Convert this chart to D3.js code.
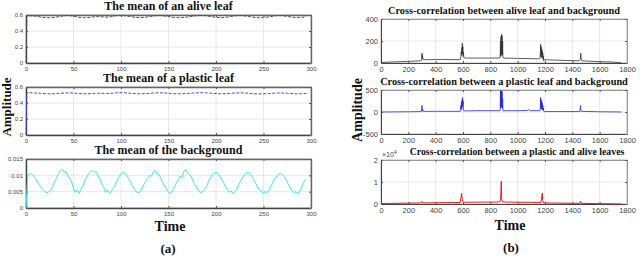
<!DOCTYPE html>
<html>
<head>
<meta charset="utf-8">
<script src="https://cdn.jsdelivr.net/npm/d3@7"></script>
<style>
  body { margin: 0; background: #fff; }
  .tick text { font-family: "Liberation Sans", Arial, sans-serif; fill: #444; }
  .title { font-family: "Liberation Serif", "Times New Roman", serif; font-weight: bold; fill: #111; }
</style>
</head>
<body>
<div id="chart"></div>
<script>
// --- left column data (time 0..300) ---
const aliveTime  = [0, 1, 5, 10, 15, 20, 25, 30, 35, 40, 45, 50, 55, 60, 65, 70, 75, 80, 85, 90, 95, 100, 105, 110, 115, 120, 125, 130, 135, 140, 145, 150, 155, 160, 165, 170, 175, 180, 185, 190, 195, 200, 205, 210, 215, 220, 225, 230, 235, 240, 245, 250, 255, 260, 265, 270, 275, 280, 285, 290, 295];
const aliveMean  = [0, 0.59, 0.59, 0.585, 0.575, 0.567, 0.565, 0.57, 0.58, 0.59, 0.595, 0.585, 0.572, 0.565, 0.568, 0.575, 0.58, 0.578, 0.572, 0.58, 0.592, 0.597, 0.59, 0.58, 0.57, 0.566, 0.57, 0.58, 0.59, 0.595, 0.59, 0.58, 0.57, 0.566, 0.568, 0.575, 0.585, 0.593, 0.596, 0.59, 0.58, 0.57, 0.566, 0.57, 0.58, 0.59, 0.595, 0.59, 0.58, 0.57, 0.565, 0.568, 0.575, 0.585, 0.595, 0.592, 0.582, 0.572, 0.566, 0.57, 0.578];
const plasticMean = [0, 0.53, 0.528, 0.525, 0.52, 0.516, 0.515, 0.517, 0.521, 0.525, 0.527, 0.524, 0.519, 0.515, 0.516, 0.519, 0.522, 0.521, 0.519, 0.522, 0.527, 0.53, 0.527, 0.522, 0.518, 0.515, 0.517, 0.521, 0.525, 0.528, 0.526, 0.521, 0.517, 0.515, 0.516, 0.519, 0.523, 0.527, 0.529, 0.527, 0.522, 0.518, 0.515, 0.517, 0.521, 0.525, 0.528, 0.526, 0.521, 0.517, 0.514, 0.515, 0.518, 0.522, 0.526, 0.525, 0.521, 0.517, 0.515, 0.516, 0.519];
const bgTime = d3.range(0, 296, 2);
const bgMean = [0.0, 0.0102, 0.0105, 0.0104, 0.0098, 0.0090, 0.0080, 0.0070, 0.0062, 0.0056, 0.0050, 0.0047, 0.0049, 0.0055, 0.0066, 0.0080, 0.0090, 0.0105, 0.0112, 0.0118, 0.0110, 0.0112, 0.0100, 0.0092, 0.0080, 0.0060, 0.0048, 0.0055, 0.0045, 0.0058, 0.0068, 0.0085, 0.0095, 0.0105, 0.0112, 0.0115, 0.0110, 0.0112, 0.0098, 0.0088, 0.0072, 0.0062, 0.0048, 0.0055, 0.0045, 0.0052, 0.0060, 0.0072, 0.0085, 0.0097, 0.0105, 0.0109, 0.0107, 0.0100, 0.0090, 0.0080, 0.0068, 0.0058, 0.0050, 0.0047, 0.0050, 0.0058, 0.0072, 0.0082, 0.0090, 0.0100, 0.0097, 0.0110, 0.0116, 0.0105, 0.0102, 0.0090, 0.0078, 0.0065, 0.0058, 0.0048, 0.0044, 0.0052, 0.0062, 0.0076, 0.0085, 0.0098, 0.0092, 0.0110, 0.0118, 0.0108, 0.0104, 0.0095, 0.0082, 0.0070, 0.0060, 0.0052, 0.0047, 0.0050, 0.0056, 0.0066, 0.0080, 0.0092, 0.0102, 0.0107, 0.0109, 0.0106, 0.0098, 0.0088, 0.0078, 0.0066, 0.0056, 0.0048, 0.0052, 0.0044, 0.0050, 0.0058, 0.0072, 0.0084, 0.0094, 0.0102, 0.0107, 0.0109, 0.0105, 0.0096, 0.0086, 0.0074, 0.0062, 0.0055, 0.0050, 0.0045, 0.0052, 0.0046, 0.0056, 0.0068, 0.0080, 0.0090, 0.0098, 0.0104, 0.0106, 0.0102, 0.0095, 0.0085, 0.0074, 0.0062, 0.0054, 0.0047, 0.0050, 0.0044, 0.0052, 0.0062, 0.0076, 0.0088];

// --- right column data (lag 0..1800) ---
const abLag = [0, 100, 200, 290, 297, 300, 302, 304, 307, 320, 450, 580, 585, 587, 589, 591, 593, 595, 597, 599, 601, 603, 606, 620, 700, 860, 872, 874, 876, 878, 880, 882, 884, 886, 888, 890, 892, 900, 1000, 1150, 1165, 1168, 1170, 1172, 1174, 1176, 1178, 1180, 1182, 1184, 1186, 1188, 1190, 1195, 1300, 1450, 1458, 1462, 1465, 1470, 1550, 1700, 1750, 1760];
const abCorr = [5, 10, 15, 20, 25, 90, 40, 70, 35, 30, 32, 30, 60, 100, 70, 140, 80, 180, 90, 150, 60, 100, 50, 45, 45, 45, 50, 200, 60, 240, 70, 260, 80, 250, 70, 200, 50, 45, 42, 38, 45, 170, 60, 150, 55, 130, 50, 110, 45, 90, 35, 60, 20, 30, 25, 20, 30, 90, 40, 20, 15, 8, 3, 0];
const pbLag = [0, 200, 295, 300, 302, 305, 308, 400, 580, 585, 587, 589, 591, 593, 595, 597, 599, 601, 603, 606, 700, 860, 872, 874, 876, 878, 880, 882, 884, 886, 888, 890, 892, 1000, 1070, 1080, 1090, 1160, 1165, 1168, 1170, 1172, 1174, 1176, 1178, 1180, 1182, 1184, 1186, 1188, 1190, 1195, 1300, 1455, 1460, 1463, 1466, 1600, 1760];
const pbCorr = [0, 5, 10, 150, 20, 60, 15, 15, 15, 150, 60, 220, 80, 280, 120, 330, 150, 250, 40, 25, 30, 30, 40, 470, 100, 490, 120, 480, 100, 470, 80, 300, 30, 30, 35, 55, 30, 30, 40, 330, 80, 280, 70, 250, 60, 200, 50, 150, 40, 90, 20, 10, 10, 10, 150, 40, 15, 5, 0];
const paLag = [0, 290, 300, 305, 580, 590, 594, 598, 605, 860, 875, 880, 883, 890, 1170, 1180, 1183, 1190, 1455, 1460, 1465, 1760];
const paCorr = [200, 500, 1200, 500, 700, 4900, 2000, 1200, 800, 900, 1500, 10400, 2000, 900, 700, 5000, 1500, 500, 300, 1300, 300, 0];

const W = 640, H = 256;
const svg = d3.select("#chart").append("svg").attr("width", W).attr("height", H);

// draws one framed panel with grid, returns scales + group
function panel(opt) {
  const x = d3.scaleLinear().domain(opt.xDomain).range(opt.xRange);
  const y = d3.scaleLinear().domain(opt.yDomain).range([opt.top + opt.h, opt.top]);
  const g = svg.append("g");
  const [x0, x1] = opt.xRange;
  // grid
  g.selectAll(".vg").data(opt.xTicks).enter().append("line")
    .attr("x1", d => x(d)).attr("x2", d => x(d))
    .attr("y1", opt.top).attr("y2", opt.top + opt.h)
    .attr("stroke", "#e2e2e2").attr("stroke-width", 0.8);
  g.selectAll(".hg").data(opt.yTicks).enter().append("line")
    .attr("x1", x0).attr("x2", x1)
    .attr("y1", d => y(d)).attr("y2", d => y(d))
    .attr("stroke", "#e2e2e2").attr("stroke-width", 0.8);
  // frame
  g.append("rect").attr("x", x0).attr("y", opt.top).attr("width", x1 - x0).attr("height", opt.h)
    .attr("fill", "none").attr("stroke", "#bbb").attr("stroke-width", 0.8);
  // axes (ticks inward)
  const xa = g.append("g").attr("transform", `translate(0,${opt.top + opt.h})`)
    .call(d3.axisBottom(x).tickValues(opt.xTicks).tickSizeInner(-2).tickSizeOuter(0).tickPadding(4)
      .tickFormat(d3.format("d")));
  const xt = g.append("g").attr("transform", `translate(0,${opt.top})`)
    .call(d3.axisTop(x).tickValues(opt.xTicks).tickSizeInner(-2).tickSizeOuter(0).tickFormat(""));
  const ya = g.append("g").attr("transform", `translate(${x0},0)`)
    .call(d3.axisLeft(y).tickValues(opt.yTicks).tickSizeInner(-2).tickSizeOuter(0).tickPadding(3)
      .tickFormat(opt.yFormat || (d => String(d))));
  const yr = g.append("g").attr("transform", `translate(${x1},0)`)
    .call(d3.axisRight(y).tickValues(opt.yTicks).tickSizeInner(-2).tickSizeOuter(0).tickFormat(""));
  [xa, ya].forEach(a => {
    a.select(".domain").attr("stroke", opt.axisColor).attr("stroke-width", opt.axisWidth);
    a.selectAll(".tick text").style("font-size", opt.fontSize + "px");
  });
  [xt, yr].forEach(a => a.select(".domain").attr("stroke", opt.sideColor).attr("stroke-width", opt.axisWidth));
  [xa, xt, ya, yr].forEach(a => a.selectAll(".tick line").attr("stroke", "#555"));
  g.append("text").attr("class", "title")
    .attr("x", opt.titleX || (x0 + x1) / 2).attr("y", opt.top - opt.titleGap)
    .attr("text-anchor", "middle").style("font-size", opt.titleSize + "px")
    .text(opt.title);
  return { x, y, g };
}

function drawLine(p, xs, ys, color, width, dash) {
  const pts = xs.map((d, i) => [d, ys[i]]);
  p.g.append("path").datum(pts)
    .attr("fill", "none").attr("stroke", color).attr("stroke-width", width)
    .attr("stroke-dasharray", dash || null)
    .attr("d", d3.line().x(d => p.x(d[0])).y(d => p.y(d[1])));
}

// ---- left column ----
const leftX = [26, 311];
const leftTicks = [0, 50, 100, 150, 200, 250, 300];
const leftBase = { xDomain: [0, 300], xRange: leftX, xTicks: leftTicks, h: 48,
  fontSize: 6, titleSize: 12, titleGap: 5, axisColor: "#444", sideColor: "#666", axisWidth: 1.4 };

const la = panel(Object.assign({}, leftBase, { top: 15, yDomain: [0, 0.6], yTicks: [0, 0.2, 0.4, 0.6],
  title: "The mean of an alive leaf" }));
drawLine(la, aliveTime, aliveMean, "#555", 1, "3,1.5");

const lp = panel(Object.assign({}, leftBase, { top: 87, yDomain: [0, 0.6], yTicks: [0, 0.2, 0.4, 0.6],
  title: "The mean of a plastic leaf" }));
drawLine(lp, aliveTime, plasticMean, "#4a4ad8", 1, "3,1.5");

const lb = panel(Object.assign({}, leftBase, { top: 159, h: 49, yDomain: [0, 0.015], yTicks: [0, 0.005, 0.01, 0.015],
  title: "The mean of the background" }));
drawLine(lb, bgTime, bgMean, "#3ee6e6", 1);

// ---- right column ----
const rightX = [381, 627];
const rightTicks = d3.range(0, 1801, 200);
const rightBase = { xDomain: [0, 1800], xRange: rightX, xTicks: rightTicks, h: 44,
  fontSize: 7.5, titleSize: 10.3, titleGap: 5, axisColor: "#444", sideColor: "#999", axisWidth: 1 };

const r1 = panel(Object.assign({}, rightBase, { top: 19, yDomain: [0, 400], yTicks: [0, 200, 400],
  title: "Cross-correlation between alive leaf and background" }));
drawLine(r1, abLag, abCorr, "#333", 0.8);

const r2 = panel(Object.assign({}, rightBase, { top: 90, yDomain: [-500, 500], yTicks: [-500, 0, 500],
  title: "Cross-correlation between a plastic leaf and background" }));
drawLine(r2, pbLag, pbCorr, "#2a2ad0", 0.8);

const r3 = panel(Object.assign({}, rightBase, { top: 160, yDomain: [0, 20000], yTicks: [0, 10000, 20000],
  yFormat: d => d / 10000, titleSize: 9.8, titleX: 517,
  title: "Cross-correlation between a plastic and alive leaves" }));
drawLine(r3, paLag, paCorr, "#e02020", 1);
// exponent label
const ex = svg.append("text").attr("x", 382).attr("y", 157)
  .style("font-family", "Liberation Sans, Arial, sans-serif").style("font-size", "7px").attr("fill", "#444");
ex.append("tspan").text("\u00d710");
ex.append("tspan").attr("dy", -3).style("font-size", "5px").text("4");

// ---- shared labels ----
function label(txt, x, y, size, rotate) {
  svg.append("text").attr("class", "title")
    .attr("transform", `translate(${x},${y})` + (rotate ? " rotate(-90)" : ""))
    .attr("text-anchor", "middle").style("font-size", size + "px").text(txt);
}
label("Amplitude", 11, 107, 13, true);
label("Amplitude", 362, 110, 14, true);
label("Time", 170, 231, 14);
label("Time", 510, 230, 14);
label("(a)", 168, 253, 13);
label("(b)", 511, 252, 13);
</script>
</body>
</html>
